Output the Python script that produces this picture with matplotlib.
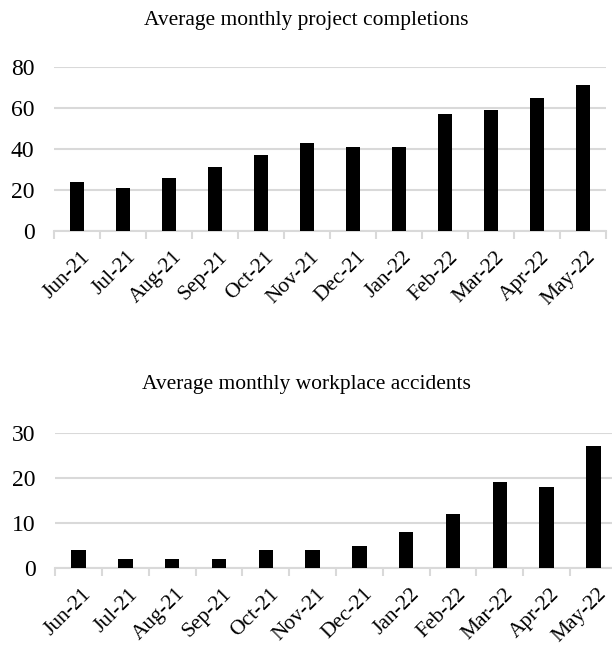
import matplotlib
matplotlib.use("Agg")
import matplotlib.pyplot as plt
import matplotlib.transforms as mtrans
import numpy as np

months = ["Jun-21", "Jul-21", "Aug-21", "Sep-21", "Oct-21", "Nov-21",
          "Dec-21", "Jan-22", "Feb-22", "Mar-22", "Apr-22", "May-22"]
completions = [24, 21, 26, 31, 37, 43, 41, 41, 57, 59, 65, 71]
accidents = [4, 2, 2, 2, 4, 4, 5, 8, 12, 19, 18, 27]

plt.rcParams['font.family'] = ['Liberation Serif', 'DejaVu Serif']

fig = plt.figure(figsize=(6.12, 6.5), dpi=100)


def draw_panel(ax, values, ymax, step, title, ty):
    x = np.arange(len(values))
    ax.bar(x, values, width=0.31, color='black', zorder=3)
    ax.set_xlim(-0.5, len(values) - 0.5)
    ax.set_ylim(0, ymax)
    ax.set_yticks(np.arange(0, ymax + 1, step))
    ax.yaxis.grid(True, color='#d9d9d9', linewidth=1.5, zorder=0)
    ax.set_axisbelow(True)
    for s in ['left', 'right', 'top']:
        ax.spines[s].set_visible(False)
    ax.spines['bottom'].set_color('#d9d9d9')
    ax.spines['bottom'].set_linewidth(1.5)
    ax.tick_params(axis='y', length=0, labelsize=17, pad=14)
    # category boundary ticks
    ax.set_xticks(np.arange(-0.5, len(values)), minor=True)
    ax.tick_params(axis='x', which='minor', length=6, width=1.5, color='#d9d9d9')
    ax.set_xticks(x)
    ax.set_xticklabels(months, rotation=45, ha='right', rotation_mode='anchor')
    ax.tick_params(axis='x', which='major', length=0, labelsize=15.5, pad=12)
    off = mtrans.ScaledTranslation(2.5 / 72, 0, fig.dpi_scale_trans)
    for lab in ax.get_xticklabels():
        lab.set_transform(lab.get_transform() + off)
    fig.text(0.5, ty, title, ha='center', va='center', fontsize=15.5)


ax1 = fig.add_axes([0.088, 0.6446, 0.902, 0.2523])
draw_panel(ax1, completions, 80, 20, "Average monthly project completions", 0.968)

ax2 = fig.add_axes([0.090, 0.126, 0.918, 0.208])
draw_panel(ax2, accidents, 30, 10, "Average monthly workplace accidents", 0.408)

fig.savefig("out.png", dpi=100)
